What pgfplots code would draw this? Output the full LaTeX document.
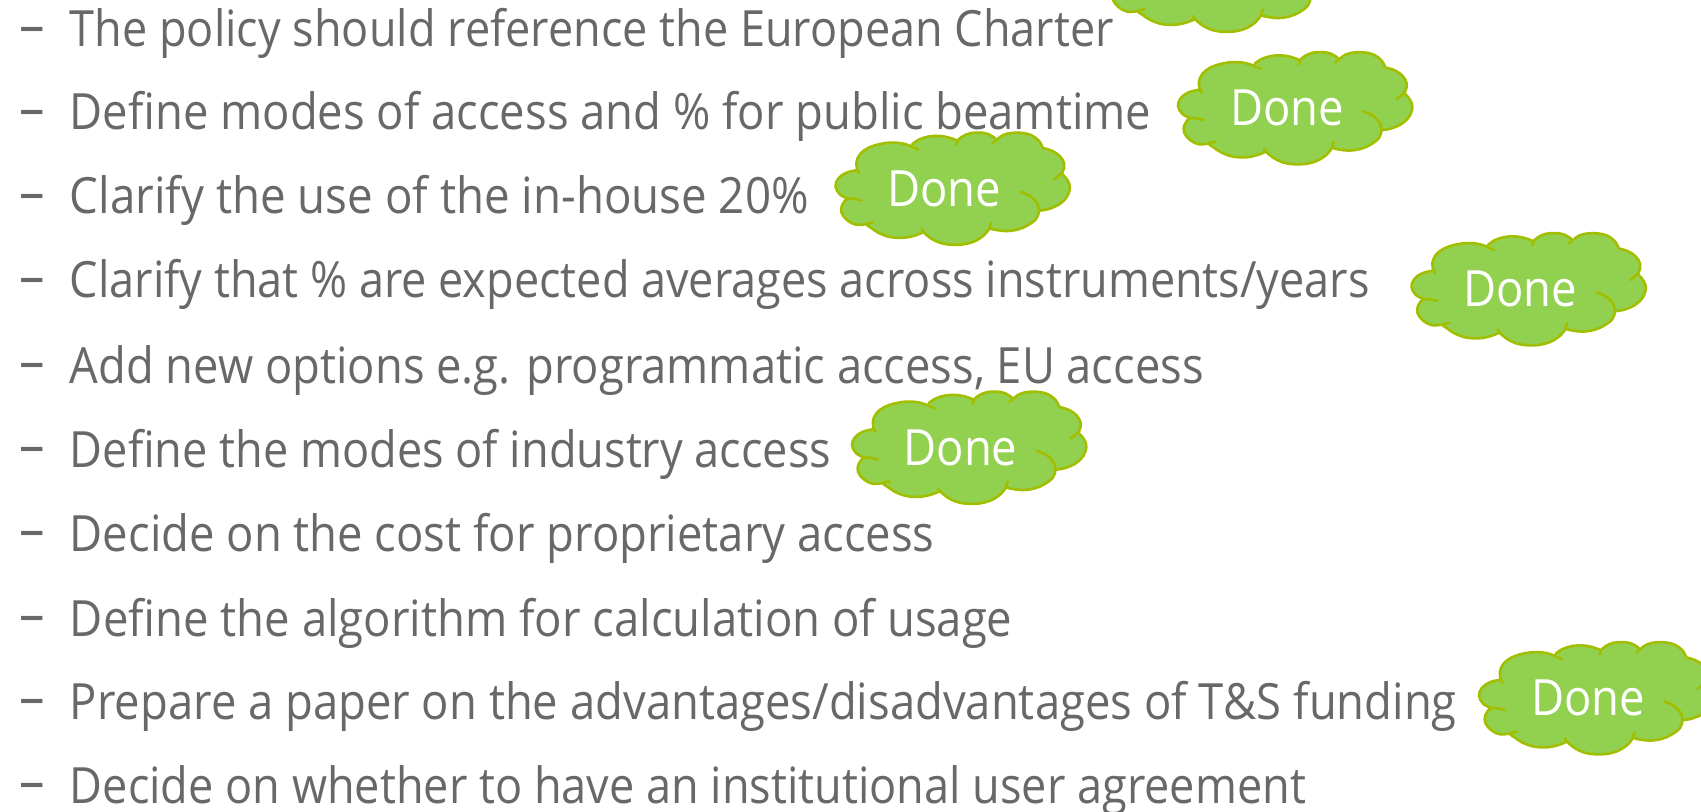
\documentclass[border=0pt]{standalone}
\usepackage{fontspec}
\usepackage{graphicx}
\setmainfont{Open Sans}
\newfontface\bodyfont[FakeStretch=0.908]{Open Sans}
\usepackage{pgfplots}
\usepackage{pgfplotstable}
\pgfplotsset{compat=1.18}

\definecolor{txt}{HTML}{686868}
\definecolor{cloudfill}{HTML}{92D050}
\definecolor{cloudline}{HTML}{A2BE00}

% cloud outline, lobe by lobe, in the coordinates of a zoomed crop
\pgfplotstableread{
x y
258 270
256 245
265 222
285 204
315 192
350 187
385 192
418 208
nan nan
402 192
420 178
445 169
470 167
495 171
520 182
517 194
nan nan
520 182
535 168
555 159
578 157
600 161
620 174
nan nan
614 188
640 165
665 158
690 158
715 165
735 182
745 203
nan nan
745 203
770 212
790 228
801 250
797 275
775 297
nan nan
795 280
810 300
816 322
808 350
788 372
760 386
735 391
nan nan
687 335
705 343
720 355
733 375
735 391
728 415
705 435
680 447
650 452
625 449
606 443
610 427
nan nan
606 443
590 465
565 483
535 492
505 493
475 487
450 473
432 455
427 446
nan nan
432 455
410 465
380 472
345 470
315 458
295 443
282 431
300 426
nan nan
282 431
255 433
232 420
217 398
218 375
234 355
268 360
nan nan
234 355
212 342
201 318
208 295
228 278
258 270
262 278
}\cloudtable

\newcommand{\cloud}[2]{%
  \addplot[draw=none, fill=cloudfill, unbounded coords=discard]
    table[x expr={(\thisrow{x}-508)*0.381+#1}, y expr={(\thisrow{y}-326)*0.334+#2}] {\cloudtable};
  \addplot[draw=cloudline, line width=1.3pt, smooth, tension=0.6, unbounded coords=jump, line cap=round]
    table[x expr={(\thisrow{x}-508)*0.381+#1}, y expr={(\thisrow{y}-326)*0.334+#2}] {\cloudtable};
}
% #1 baseline, #2 horizontal fit, #3 text
\newcommand{\bullettext}[3]{%
  \node[anchor=base west, inner sep=0pt, text=txt, font=\bodyfont\fontsize{28}{30}\selectfont] at (axis cs:19,#1-1.5) {–};
  \node[anchor=base west, inner sep=0pt, text=txt, font=\bodyfont\fontsize{25}{30}\selectfont] at (axis cs:69.5,#1+1) {\scalebox{#2}[1]{#3}};
}
\newcommand{\done}[2]{%
  \node[inner sep=0pt, text=white, font=\bodyfont\fontsize{25}{30}\selectfont] at (axis cs:#1,#2) {Done};
}

\begin{document}
\begin{tikzpicture}
\path[use as bounding box] (0,0) rectangle (850.5pt,406pt);
\clip (0,0) rectangle (850.5pt,406pt);
\begin{axis}[
    at={(0,0)}, anchor=south west,
    scale only axis,
    width=850.5pt, height=406pt,
    xmin=0, xmax=1701,
    ymin=0, ymax=812,
    y dir=reverse,
    hide axis,
]
\cloud{1224}{-24}
\cloud{1295}{108.5}
\cloud{952.5}{189}
\cloud{1528.5}{289.5}
\cloud{969}{448}
\cloud{1596}{698.5}

\done{1287}{108}
\done{944}{188.5}
\done{1520}{289}
\done{960.5}{447.5}
\done{1588}{698}

\bullettext{46}{0.992}{The policy should reference the European Charter}
\bullettext{129}{1}{Define modes of access and \% for public beamtime}
\bullettext{213}{1.006}{Clarify the use of the in-house 20\%}
\bullettext{297}{0.992}{Clarify that \% are expected averages across instruments/years}
\bullettext{382}{0.998}{Add new options e.g. programmatic access, EU access}
\bullettext{466}{0.994}{Define the modes of industry access}
\bullettext{550}{1}{Decide on the cost for proprietary access}
\bullettext{635}{1.002}{Define the algorithm for calculation of usage}
\bullettext{718}{1}{Prepare a paper on the advantages/disadvantages of T\&S funding}
\bullettext{802}{0.993}{Decide on whether to have an institutional user agreement}
\end{axis}
\end{tikzpicture}
\end{document}
